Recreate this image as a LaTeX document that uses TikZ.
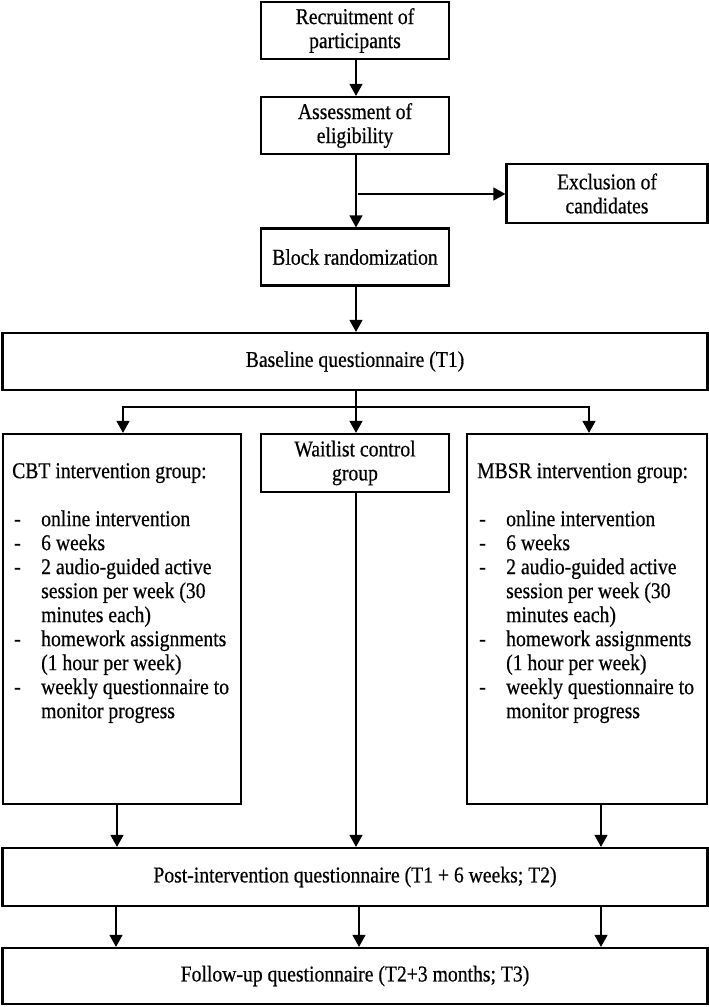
\documentclass[tikz,border=0pt]{standalone}
\usepackage{fontspec}
\setmainfont[FakeStretch=0.87,FakeBold=0.5]{Liberation Serif}
\usetikzlibrary{arrows.meta}
\begin{document}
\begin{tikzpicture}[x=1pt,y=-1pt,
  box/.style={draw,line width=2.2pt,inner sep=0pt,align=center,
    font=\fontsize{22.6}{24}\selectfont},
  smallbox/.style={box,minimum width=188pt,minimum height=57pt},
  widebox/.style={box,minimum width=705pt,minimum height=57pt},
  tallbox/.style={box,minimum height=370pt},
  listtext/.style={inner sep=0pt,align=left,anchor=north west,
    font=\fontsize{22.6}{24}\selectfont},
  arr/.style={line width=1.2pt,-{Triangle[length=12pt,width=13pt]}},
  ln/.style={line width=1.2pt}]
\useasboundingbox (0,0) rectangle (709,1007);
\newcommand{\dashitem}{\hspace*{2pt}\makebox[27pt][l]{-}}
\newcommand{\cont}{\hspace*{29pt}}
\node[smallbox] (rec) at (355,30.5) {Recruitment of\\participants};
\node[smallbox] (ass) at (355,125.5) {Assessment of\\eligibility};
\node[box,minimum width=201pt,minimum height=59pt] (exc) at (607,193.5) {Exclusion of\\candidates};
\node[smallbox] (blk) at (355,257) {Block randomization};
\node[widebox] (base) at (355,361.5) {Baseline questionnaire (T1)};
\node[tallbox,minimum width=238pt] (cbt) at (122,619) {};
\node[smallbox,minimum height=58pt] (wait) at (355,463) {Waitlist control\\group};
\node[tallbox,minimum width=240pt] (mbsr) at (587,619) {};
\node[widebox,minimum height=58pt] (post) at (355,877) {Post-intervention questionnaire (T1 + 6 weeks; T2)};
\node[widebox,minimum height=56pt] (fol) at (355,976) {Follow-up questionnaire (T2+3 months; T3)};
\node[listtext] (cbttext) at (12,463) {CBT intervention group:\\[24pt]
\dashitem online intervention\\
\dashitem 6 weeks\\
\dashitem 2 audio-guided active\\
\cont session per week (30\\
\cont minutes each)\\
\dashitem homework assignments\\
\cont (1 hour per week)\\
\dashitem weekly questionnaire to\\
\cont monitor progress};
\node[listtext] (mbsrtext) at (477,463) {MBSR intervention group:\\[24pt]
\dashitem online intervention\\
\dashitem 6 weeks\\
\dashitem 2 audio-guided active\\
\cont session per week (30\\
\cont minutes each)\\
\dashitem homework assignments\\
\cont (1 hour per week)\\
\dashitem weekly questionnaire to\\
\cont monitor progress};
\coordinate (ex) at (358,194);
\coordinate (br) at (356,407);
\draw[arr] ([xshift=1pt]rec.south) -- ([xshift=1pt]ass.north);
\draw[arr] ([xshift=1pt]ass.south) -- ([xshift=1pt]blk.north);
\draw[arr] (ex) -- (ex -| exc.west);
\draw[arr] ([xshift=1pt]blk.south) -- ([xshift=1pt]base.north);
\draw[ln] ([xshift=1pt]base.south) -- (br);
\draw[arr] (br) -- (br |- wait.north);
\draw[arr] (br) -| ([xshift=1pt]cbt.north);
\draw[arr] (br) -| ([xshift=2pt]mbsr.north);
\draw[arr] ([xshift=-5pt]cbt.south) -- ([xshift=-5pt]cbt.south |- post.north);
\draw[arr] ([xshift=1pt]wait.south) -- ([xshift=1pt]wait.south |- post.north);
\draw[arr] ([xshift=14pt]mbsr.south) -- ([xshift=14pt]mbsr.south |- post.north);
\draw[arr] ([xshift=-239pt]post.south) -- ([xshift=-239pt]fol.north);
\draw[arr] ([xshift=4pt]post.south) -- ([xshift=4pt]fol.north);
\draw[arr] ([xshift=246pt]post.south) -- ([xshift=246pt]fol.north);
\end{tikzpicture}
\end{document}
